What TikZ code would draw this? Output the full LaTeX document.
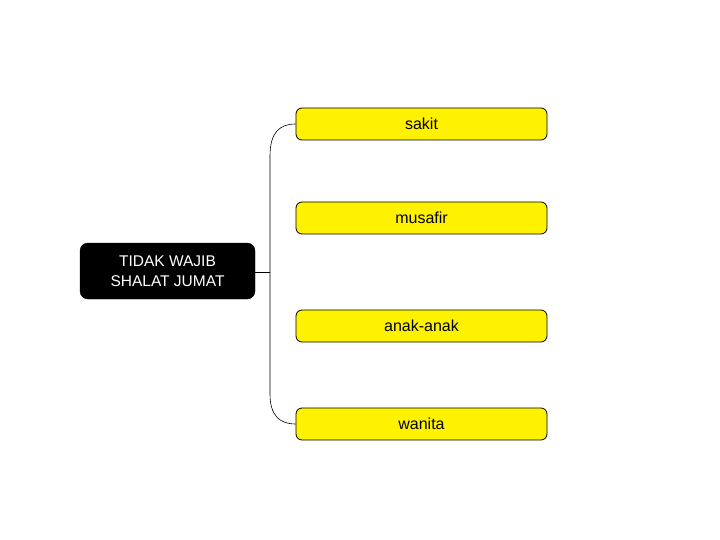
\documentclass[tikz,border=0pt]{standalone}
\usepackage{fontspec}
\setmainfont{Liberation Sans}
\begin{document}
\begin{tikzpicture}[x=1pt,y=-1pt,
  rootbox/.style={draw=black,fill=black,rounded corners=8pt,minimum width=175pt,minimum height=56pt,
    text=white,font=\fontsize{15.5}{20.5}\selectfont,align=center,inner sep=0pt},
  leafbox/.style={draw=black,line width=0.8pt,fill=yellow,rounded corners=6pt,minimum width=251pt,minimum height=32pt,
    font=\fontsize{16}{18}\selectfont,inner sep=0pt},
  link/.style={draw=black,line width=0.6pt}]
\useasboundingbox (0,0) rectangle (720,540);
\node[rootbox] (root) at (167.5,271) {TIDAK WAJIB\\SHALAT JUMAT};
\node[leafbox] (sakit) at (421.5,124) {sakit};
\node[leafbox] (musafir) at (421.5,218) {musafir};
\node[leafbox] (anak) at (421.5,326) {anak-anak};
\node[leafbox] (wanita) at (421.5,424) {wanita};
\coordinate (j) at (270,272);
\draw[link] (root.east |- j) -- (j);
\draw[link] (sakit.west) .. controls (280,124) and (270,132) .. (270,156) -- (270,394)
  .. controls (270,416) and (280,424) .. (wanita.west);
\end{tikzpicture}
\end{document}
